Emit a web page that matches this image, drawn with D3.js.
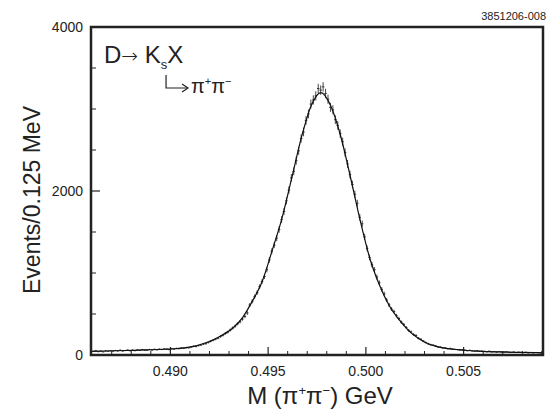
<!DOCTYPE html>
<html>
<head>
<meta charset="utf-8">
<script src="https://cdn.jsdelivr.net/npm/d3@7"></script>
<style>
  body { margin: 0; background: #fff; }
  svg text { font-family: "Liberation Sans", Arial, Helvetica, sans-serif; fill: #222; }
</style>
</head>
<body>
<svg id="chart" width="556" height="409"></svg>
<script>
// histogram: 184 bins of 0.125 MeV starting at 486.0 MeV
const binStart = 0.486;
const binWidth = 0.000125;
const counts = [
  44, 52, 41, 47, 39, 50, 46, 53,
  48, 55, 50, 58, 49, 54, 60, 52,
  59, 53, 62, 57, 66, 60, 58, 67,
  61, 69, 64, 71, 67, 74, 70, 66,
  78, 72, 80, 77, 85, 82, 90, 88,
  98, 106, 104, 115, 121, 133, 138, 152,
  168, 181, 194, 206, 225, 241, 262, 279,
  305, 330, 352, 381, 405, 438, 470, 512,
  610, 655, 712, 760, 832, 895, 958, 1040,
  1160, 1265, 1340, 1425, 1530, 1650, 1750, 1880,
  2010, 2160, 2240, 2370, 2490, 2640, 2720, 2860,
  2940, 3060, 3110, 3160, 3250, 3230, 3270, 3190,
  3120, 3020, 2990, 2870, 2800, 2700, 2600, 2470,
  2330, 2200, 2080, 1960, 1850, 1680, 1600, 1440,
  1300, 1190, 1100, 1040, 950, 880, 800, 745,
  670, 610, 560, 530, 480, 445, 400, 372,
  335, 300, 282, 250, 238, 205, 192, 170,
  152, 138, 126, 121, 110, 98, 96, 88,
  86, 77, 80, 72, 68, 66, 62, 63,
  58, 52, 57, 50, 47, 53, 45, 48,
  44, 40, 46, 38, 41, 36, 42, 37,
  35, 38, 33, 31, 36, 30, 34, 31,
  29, 33, 27, 30, 26, 31, 28, 25
];

// fitted curve (mass in MeV)
const fitMass = [485.94, 486.7, 487.7, 488.7, 489.7, 490.2, 490.7, 491.2, 491.7, 492.2,
  492.7, 493.2, 493.7, 494.2, 494.7, 495.2, 495.7, 496.2, 496.7, 497.2,
  497.7, 498.2, 498.7, 499.2, 499.7, 500.2, 500.7, 501.2, 501.7, 502.2,
  502.7, 503.2, 503.7, 504.2, 504.7, 505.2, 505.7, 506.7, 507.7, 508.7, 509.06];
const fitCount = [44, 49, 55, 62, 70, 76, 88, 105, 140, 185,
  250, 330, 460, 660, 900, 1270, 1660, 2150, 2650, 3040,
  3200, 3040, 2680, 2180, 1650, 1180, 850, 600, 430, 295,
  200, 135, 100, 78, 65, 55, 48, 38, 32, 28, 26];

const xTicks = [0.490, 0.495, 0.500, 0.505];
const yTicks = [0, 2000, 4000];

const svg = d3.select('#chart');
const mLeft = 91, mRight = 543, mTop = 27, mBottom = 355;

const x = d3.scaleLinear().domain([0.48594, 0.50906]).range([mLeft, mRight]);
const y = d3.scaleLinear().domain([0, 4000]).range([mBottom, mTop]);

const ink = '#222';

// x axis ticks (inward)
const xMinor = d3.range(0.487, 0.5095, 0.001).filter(v => !xTicks.some(t => Math.abs(t - v) < 1e-6));
svg.append('g')
  .selectAll('line')
  .data(xMinor)
  .enter()
  .append('line')
  .attr('x1', d => x(d)).attr('x2', d => x(d))
  .attr('y1', mBottom).attr('y2', mBottom - 4)
  .attr('stroke', ink).attr('stroke-width', 1);

svg.append('g')
  .selectAll('line')
  .data(xTicks)
  .enter()
  .append('line')
  .attr('x1', d => x(d)).attr('x2', d => x(d))
  .attr('y1', mBottom).attr('y2', mBottom - 8)
  .attr('stroke', ink).attr('stroke-width', 1.2);

svg.append('g')
  .selectAll('text')
  .data(xTicks)
  .enter()
  .append('text')
  .attr('x', d => x(d))
  .attr('y', 376)
  .attr('text-anchor', 'middle')
  .style('font-size', '14px')
  .text(d => d3.format('.3f')(d));

// y axis ticks
const yMinor = d3.range(500, 4000, 500).filter(v => v % 2000 !== 0);
svg.append('g')
  .selectAll('line')
  .data(yMinor)
  .enter()
  .append('line')
  .attr('x1', mLeft).attr('x2', mLeft + 5)
  .attr('y1', d => y(d)).attr('y2', d => y(d))
  .attr('stroke', ink).attr('stroke-width', 1);

svg.append('g')
  .selectAll('line')
  .data(yTicks)
  .enter()
  .append('line')
  .attr('x1', mLeft).attr('x2', mLeft + 9)
  .attr('y1', d => y(d)).attr('y2', d => y(d))
  .attr('stroke', ink).attr('stroke-width', 1.2);

svg.append('g')
  .selectAll('text')
  .data(yTicks)
  .enter()
  .append('text')
  .attr('x', mLeft - 8)
  .attr('y', d => y(d) + 5)
  .attr('text-anchor', 'end')
  .style('font-size', '14px')
  .text(d => d);

// data points with error bars
const pts = svg.append('g')
  .selectAll('g')
  .data(counts)
  .enter()
  .append('g');

pts.append('line')
  .attr('x1', (d, i) => x(binStart + i * binWidth))
  .attr('x2', (d, i) => x(binStart + (i + 1) * binWidth))
  .attr('y1', d => y(d)).attr('y2', d => y(d))
  .attr('stroke', '#333').attr('stroke-width', 1);

pts.append('line')
  .attr('x1', (d, i) => x(binStart + (i + 0.5) * binWidth))
  .attr('x2', (d, i) => x(binStart + (i + 0.5) * binWidth))
  .attr('y1', d => y(d + Math.sqrt(d)))
  .attr('y2', d => y(d - Math.sqrt(d)))
  .attr('stroke', '#333').attr('stroke-width', 0.9);

// fit curve
const line = d3.line()
  .x((d, i) => x(fitMass[i] / 1000))
  .y(d => y(d))
  .curve(d3.curveMonotoneX);

svg.append('path')
  .attr('d', line(fitCount))
  .attr('fill', 'none')
  .attr('stroke', '#111')
  .attr('stroke-width', 1.2);

// frame
svg.append('rect')
  .attr('x', mLeft).attr('y', mTop)
  .attr('width', mRight - mLeft).attr('height', mBottom - mTop)
  .attr('fill', 'none')
  .attr('stroke', ink)
  .attr('stroke-width', 2.5);

// axis titles
svg.append('text')
  .attr('x', 320).attr('y', 404)
  .attr('text-anchor', 'middle')
  .style('font-size', '24px')
  .call(t => {
    t.append('tspan').text('M (\u03c0');
    t.append('tspan').attr('dy', -9).style('font-size', '13px').text('+');
    t.append('tspan').attr('dy', 9).text('\u03c0');
    t.append('tspan').attr('dy', -9).style('font-size', '13px').text('\u2212');
    t.append('tspan').attr('dy', 9).text(') GeV');
  });

svg.append('text')
  .attr('transform', 'translate(40,200) rotate(-90)')
  .attr('text-anchor', 'middle')
  .style('font-size', '23px')
  .text('Events/0.125 MeV');

svg.append('text')
  .attr('x', 546).attr('y', 20)
  .attr('text-anchor', 'end')
  .style('font-size', '11px')
  .text('3851206-008');

// decay label
const label = svg.append('text')
  .attr('x', 104).attr('y', 63)
  .style('font-size', '24px');
label.append('tspan').text('D');
label.append('tspan').style('font-family', '"DejaVu Sans"').style('font-size', '20px').style('font-weight', 300).text('\u2192');
label.append('tspan').text(' K');
label.append('tspan').attr('dy', 6).style('font-size', '13px').text('s');
label.append('tspan').attr('dy', -6).text('X');

const sPos = label.node().getStartPositionOfChar(4);
const sEnd = label.node().getEndPositionOfChar(4);
const hx = (sPos.x + sEnd.x) / 2 + 2;
const hy = 88;

svg.append('path')
  .attr('d', 'M' + hx + ',75 L' + hx + ',' + hy + ' L' + (hx + 21) + ',' + hy)
  .attr('fill', 'none').attr('stroke', ink).attr('stroke-width', 1.2);
svg.append('path')
  .attr('d', 'M' + (hx + 16) + ',' + (hy - 4) + ' L' + (hx + 22) + ',' + hy + ' L' + (hx + 16) + ',' + (hy + 4))
  .attr('fill', 'none').attr('stroke', ink).attr('stroke-width', 1.2);

svg.append('text')
  .attr('x', hx + 25).attr('y', hy + 5)
  .style('font-size', '20px')
  .call(t => {
    t.append('tspan').text('\u03c0');
    t.append('tspan').attr('dy', -8).style('font-size', '11px').text('+');
    t.append('tspan').attr('dy', 8).text('\u03c0');
    t.append('tspan').attr('dy', -8).style('font-size', '11px').text('\u2212');
  });
</script>
</body>
</html>
